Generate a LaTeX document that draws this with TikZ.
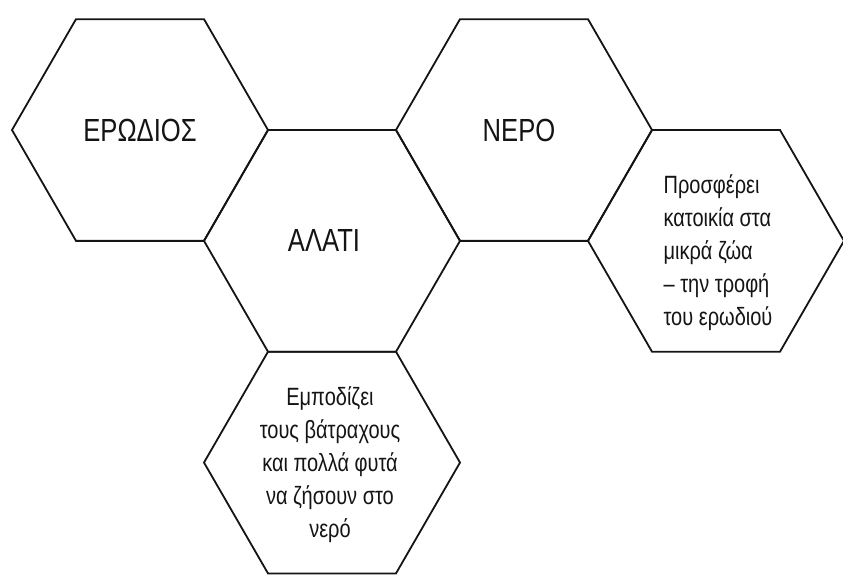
\documentclass[tikz,border=0pt]{standalone}
\usepackage{fontspec}
\setmainfont{Liberation Sans}
\newfontfamily\handfont[FakeStretch=0.8]{Liberation Sans}
\usetikzlibrary{shapes.geometric,positioning}
\definecolor{inkblk}{HTML}{141414}
\tikzset{
  hexa/.style  ={regular polygon, regular polygon sides=6, draw=inkblk, line width=1.8pt,
                 minimum size=256pt, inner sep=0pt, outer sep=0pt, text=inkblk,
                 font=\handfont\fontsize{32}{32}\selectfont},
  note/.style  ={align=left, text=inkblk, inner sep=0pt,
                 font=\handfont\fontsize{25}{33}\selectfont},
  notec/.style ={note, align=center}
}
\begin{document}
\begin{tikzpicture}[x=1pt,y=-1pt]
  \useasboundingbox (0,0) rectangle (843,579);

  \node[hexa] (erodios) at (140,130) {ΕΡΩΔΙΟΣ};
  \node[hexa] (alati)   at ([shift={(-30:221.7pt)}]erodios.center) {\hspace*{-16pt}ΑΛΑΤΙ};
  \node[hexa] (nero)    at ([shift={(30:221.7pt)}]alati.center) {\hspace*{-10pt}ΝΕΡΟ};
  \node[hexa] (trofi)   at ([shift={(-30:221.7pt)}]nero.center) {};
  \node[hexa] (empodio) at ([shift={(-90:221.7pt)}]alati.center) {};

  % notes inside the two empty cells
  \node[note]  (trofitxt)   at ([shift={(2pt,-12pt)}]trofi.center)
        {Προσφέρει\\κατοικία στα\\μικρά ζώα\\– την τροφή\\του ερωδιού};
  \node[notec] (empodiotxt) at ([shift={(-2pt,-2pt)}]empodio.center)
        {Εμποδίζει\\τους βάτραχους\\και πολλά φυτά\\να ζήσουν στο\\νερό};
\end{tikzpicture}
\end{document}
